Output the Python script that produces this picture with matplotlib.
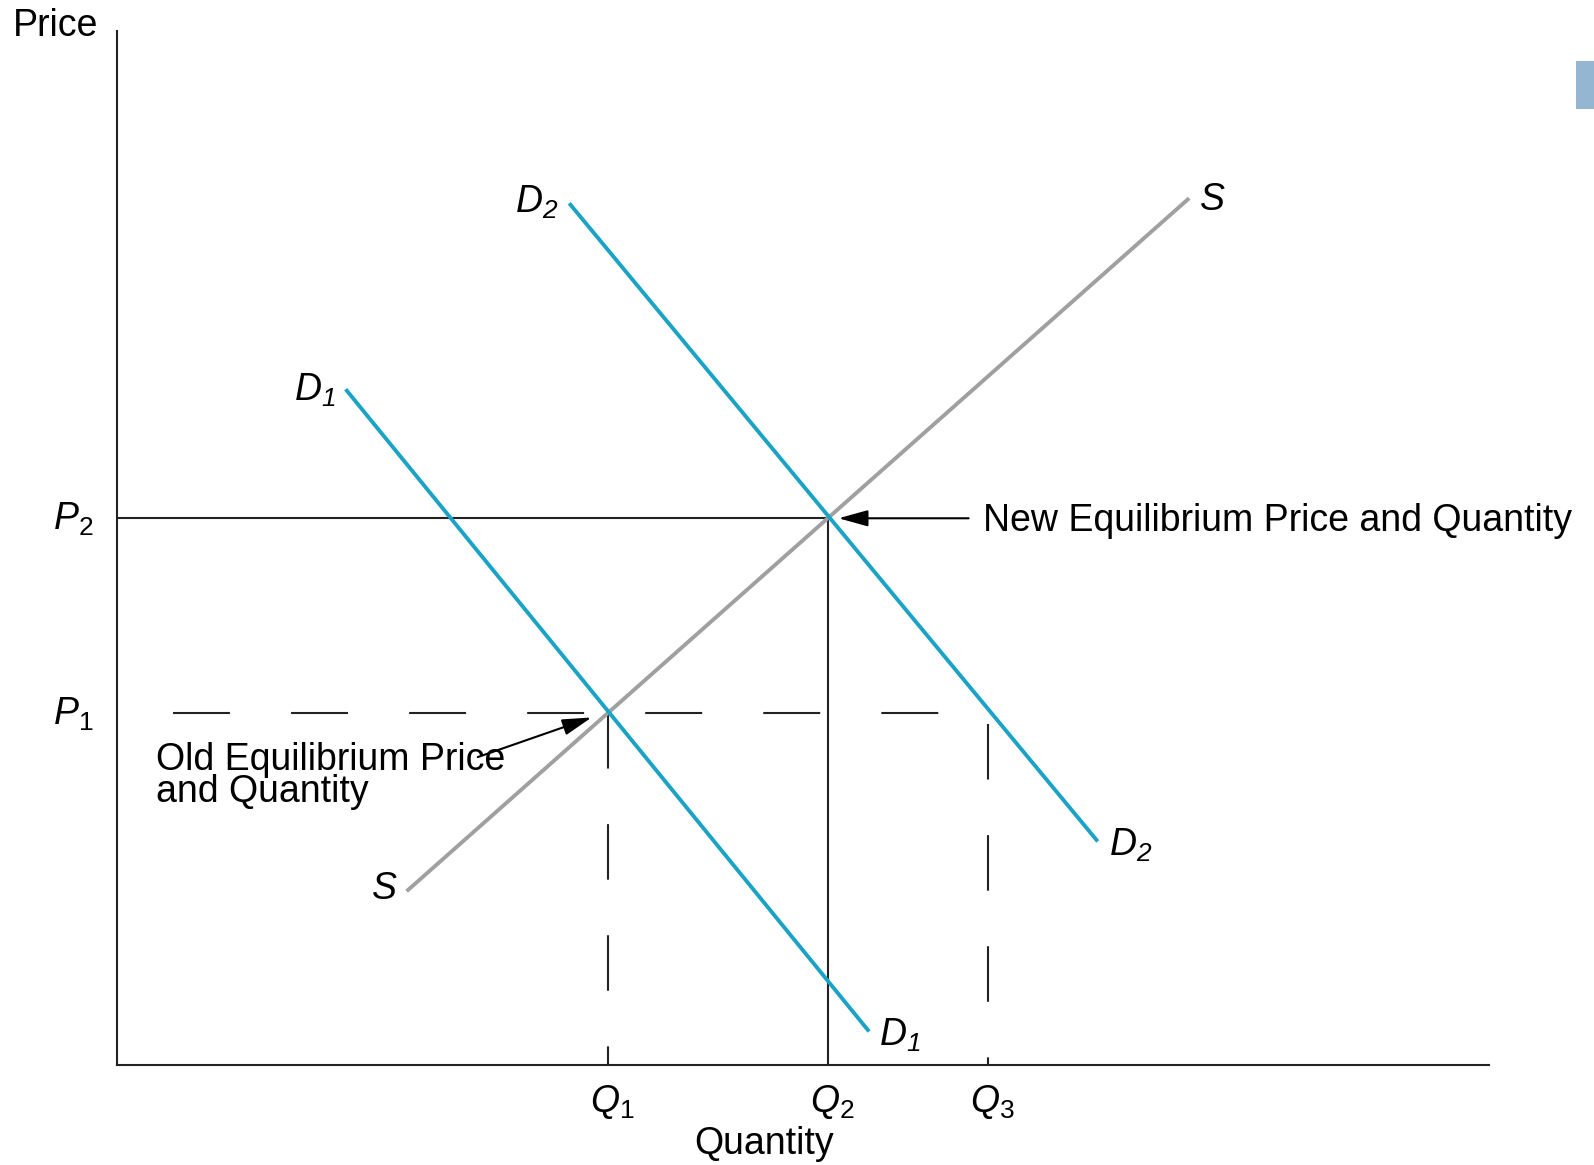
import matplotlib
matplotlib.use("Agg")
import matplotlib.pyplot as plt
from matplotlib.patches import Rectangle

# Equilibrium points
q_eq = [48.3, 70.0, 85.7]      # Q1, Q2, Q3
q_labels = [r"$Q_1$", r"$Q_2$", r"$Q_3$"]
p_eq = [34.6, 53.8]            # P1, P2
p_labels = [r"$P_1$", r"$P_2$"]

# Curves (end points)
supply_q = [28.5, 105.5]
supply_p = [17.1, 85.3]
d1_q = [22.5, 74.0]
d1_p = [66.5, 3.3]
d2_q = [44.5, 96.5]
d2_p = [84.8, 22.0]

plt.rcParams['font.family'] = ['Liberation Sans', 'DejaVu Sans']
plt.rcParams['mathtext.fontset'] = 'custom'
plt.rcParams['mathtext.rm'] = 'Liberation Sans'
plt.rcParams['mathtext.it'] = 'Liberation Sans:italic'
# sf slot used for italic digits in the D subscripts
plt.rcParams['mathtext.sf'] = 'Liberation Sans:italic'
plt.rcParams['lines.scale_dashes'] = False

W, H = 1594, 1165
fig = plt.figure(figsize=(W / 100, H / 100), dpi=100)
ax = fig.add_axes([117 / W, 100 / H, 1372 / W, 1034.5 / H])
ax.set_xlim(0, 135)
ax.set_ylim(0, 101.8)
for s in ["top", "right"]:
    ax.spines[s].set_visible(False)
for s in ["left", "bottom"]:
    ax.spines[s].set_linewidth(1.5)
    ax.spines[s].set_color("#222222")
ax.set_xticks([])
ax.set_yticks([])

blue = "#1ba3c6"
grey = "#a0a0a0"
fs = 27
dash = (0, (41, 44))

# Old equilibrium guides (dashed)
ax.plot([5.5, q_eq[2]], [p_eq[0], p_eq[0]], color="#222222", lw=1.5, linestyle=dash)
ax.plot([q_eq[0], q_eq[0]], [p_eq[0], 0], color="#222222", lw=1.5, linestyle=(0, (40, 40)))
ax.plot([q_eq[2], q_eq[2]], [p_eq[0] - 1.0, 0], color="#222222", lw=1.5, linestyle=(0, (40, 40)))

# New equilibrium guides (solid)
ax.plot([0, q_eq[1]], [p_eq[1], p_eq[1]], color="#222222", lw=1.5)
ax.plot([q_eq[1], q_eq[1]], [p_eq[1], 0], color="#222222", lw=1.5)

# Curves
ax.plot(supply_q, supply_p, color=grey, lw=2.8, solid_capstyle="butt")
ax.plot(d1_q, d1_p, color=blue, lw=2.8, solid_capstyle="butt")
ax.plot(d2_q, d2_p, color=blue, lw=2.8, solid_capstyle="butt")

# Curve labels
ax.text(supply_q[1] + 2.3, supply_p[1] - 0.2, r"$S$", fontsize=fs, ha="center", va="center")
ax.text(supply_q[0] - 2.2, supply_p[0] + 0.2, r"$S$", fontsize=fs, ha="center", va="center")
ax.text(d1_q[0] - 3.0, d1_p[0] - 0.1, r"$D_{\mathsf{1}}$", fontsize=fs, ha="center", va="center")
ax.text(d1_q[1] + 3.0, d1_p[1] - 0.4, r"$D_{\mathsf{1}}$", fontsize=fs, ha="center", va="center")
ax.text(d2_q[0] - 3.2, d2_p[0] + 0.1, r"$D_{\mathsf{2}}$", fontsize=fs, ha="center", va="center")
ax.text(d2_q[1] + 3.2, d2_p[1] - 0.4, r"$D_{\mathsf{2}}$", fontsize=fs, ha="center", va="center")

# Axis point labels
for q, lab in zip(q_eq, q_labels):
    ax.text(q + 0.4, -3.6, lab, fontsize=fs, ha="center", va="center", clip_on=False)
for p, lab in zip(p_eq, p_labels):
    ax.text(-4.3, p - 0.1, lab, fontsize=fs, ha="center", va="center", clip_on=False)

ax.text(63.7, -7.8, "Quantity", fontsize=fs, ha="center", va="center", clip_on=False)
ax.text(-6.0, 102.2, "Price", fontsize=fs, ha="center", va="center", clip_on=False)

# Annotations
ax.text(85.2, p_eq[1] - 0.25, "New Equilibrium Price and Quantity", fontsize=fs,
        ha="left", va="center")
ax.annotate("", xy=(q_eq[1] + 1.0, p_eq[1]), xytext=(83.8, p_eq[1]),
            arrowprops=dict(arrowstyle="-|>,head_length=0.9,head_width=0.25",
                            color="black", lw=1.5, shrinkA=0, shrinkB=0,
                            mutation_scale=20))
ax.text(3.8, 28.45, "Old Equilibrium Price\nand Quantity", fontsize=fs,
        ha="left", va="center", linespacing=0.88)
ax.annotate("", xy=(q_eq[0] - 1.6, p_eq[0] - 0.4), xytext=(35.5, 30.3),
            arrowprops=dict(arrowstyle="-|>,head_length=0.9,head_width=0.25",
                            color="black", lw=1.5, shrinkA=0, shrinkB=0,
                            mutation_scale=20))

# Small decoration at the right edge
fig.add_artist(Rectangle((1576 / W, 1 - 109 / H), 18 / W, 48 / H,
                         transform=fig.transFigure, color="#94b6d2", lw=0))

fig.savefig("out.png", dpi=100)
